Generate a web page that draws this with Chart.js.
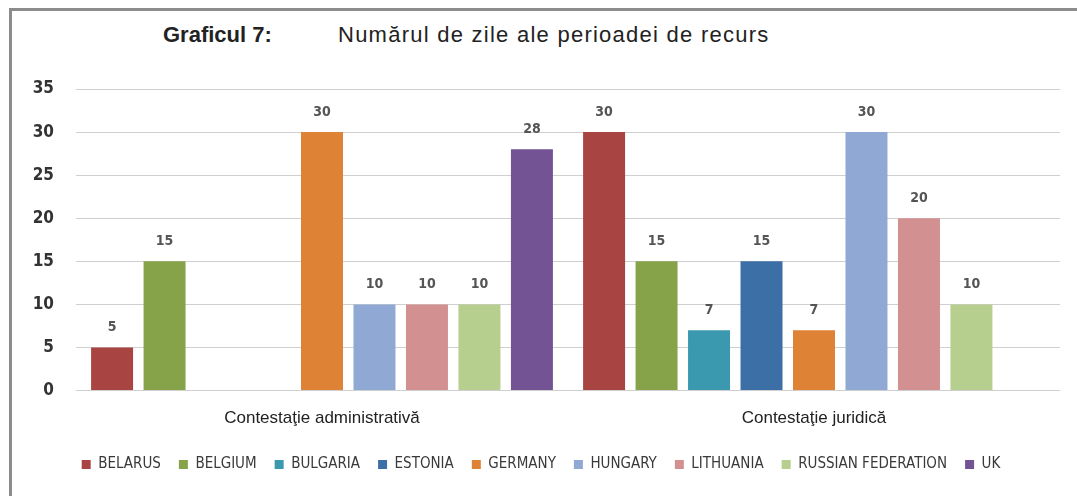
<!DOCTYPE html>
<html>
<head>
<meta charset="utf-8">
<script src="https://cdn.jsdelivr.net/npm/chart.js@4"></script>
<style>
  body { margin: 0; background: #fff; }
  .wrap { position: relative; width: 1077px; height: 496px; overflow: hidden; }
  .frame { position: absolute; left: 9px; top: 8px; width: 1100px; height: 600px;
           border-left: 3px solid #8c8c8c; border-top: 3px solid #8c8c8c; }
  .title { position: absolute; top: 22px; left: 163px; font-family: "Liberation Sans", Arial, sans-serif;
           font-size: 22px; color: #222; white-space: nowrap; }
  .title b { display: inline-block; width: 175px; }
  .title span { letter-spacing: 1.25px; }
  canvas { position: absolute; left: 0; top: 0; }
</style>
</head>
<body>
<div class="wrap">
  <div class="frame"></div>
  <div class="title"><b>Graficul 7:</b><span>Numărul de zile ale perioadei de recurs</span></div>
  <canvas id="grafic" width="1077" height="496"></canvas>
</div>
<script>
// Categorii si serii
const categorii = ['Contestaţie administrativă', 'Contestaţie juridică'];
const tari = ['BELARUS', 'BELGIUM', 'BULGARIA', 'ESTONIA', 'GERMANY', 'HUNGARY', 'LITHUANIA', 'RUSSIAN FEDERATION', 'UK'];
const belarus = [5, 30];
const belgium = [15, 15];
const bulgaria = [null, 7];
const estonia = [null, 15];
const germany = [30, 7];
const hungary = [10, 30];
const lithuania = [10, 20];
const russia = [10, 10];
const uk = [28, null];
const valori = [belarus, belgium, bulgaria, estonia, germany, hungary, lithuania, russia, uk];
const culori = ['#A84442', '#86A34A', '#3A99AF', '#3C6FA6', '#DE8236', '#8FA9D4', '#D29190', '#B6CE8E', '#735394'];
const ticksY = [0, 5, 10, 15, 20, 25, 30, 35];

// etichete cu valori deasupra barelor
const eticheteValori = {
  id: 'eticheteValori',
  afterDatasetsDraw(chart) {
    const ctx = chart.ctx;
    ctx.save();
    ctx.font = 'bold 14px "DejaVu Sans Condensed", "Liberation Sans Narrow", sans-serif';
    ctx.fillStyle = '#555';
    ctx.textAlign = 'center';
    ctx.textBaseline = 'middle';
    chart.data.datasets.forEach((ds, i) => {
      chart.getDatasetMeta(i).data.forEach((bar, j) => {
        if (ds.data[j] == null) return;
        ctx.fillText(ds.data[j], bar.x, bar.y - 20);
      });
    });
    ctx.restore();
  }
};

document.addEventListener("DOMContentLoaded", () => {
  const ctx = document.getElementById('grafic');
  new Chart(ctx, {
    type: 'bar',
    data: {
      labels: categorii,
      datasets: tari.map((t, i) => ({
        label: t,
        data: valori[i],
        backgroundColor: culori[i],
        categoryPercentage: 0.96,
        barPercentage: 0.8
      }))
    },
    options: {
      responsive: false,
      animation: false,
      layout: { padding: { left: 22, right: 17, top: 89, bottom: 14 } },
      plugins: {
        tooltip: { enabled: false },
        legend: {
          position: 'bottom',
          labels: {
            boxWidth: 9, boxHeight: 9, padding: 18,
            color: '#3a3a3a',
            font: { family: '"Liberation Sans Narrow", "DejaVu Sans Condensed", sans-serif', size: 15 }
          }
        }
      },
      scales: {
        x: {
          grid: { display: false },
          border: { display: false },
          ticks: { color: '#222', padding: 10, font: { family: '"Liberation Sans", Arial, sans-serif', size: 17 } }
        },
        y: {
          min: 0, max: 35,
          afterFit(axis) { axis.width = 54; },
          afterBuildTicks(axis) { axis.ticks = ticksY.map(v => ({ value: v })); },
          border: { display: false },
          grid: { color: '#cfcfcf', drawTicks: false },
          ticks: { color: '#333', padding: 22, font: { family: '"DejaVu Sans Condensed", sans-serif', size: 17, weight: 'bold' } }
        }
      }
    },
    plugins: [eticheteValori]
  });
});
</script>
</body>
</html>
